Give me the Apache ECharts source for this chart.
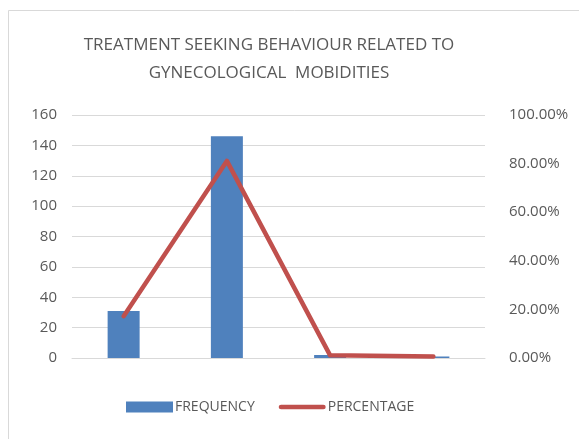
<!DOCTYPE html>
<html>
<head>
<meta charset="utf-8">
<script src="https://cdn.jsdelivr.net/npm/echarts@6/dist/echarts.min.js"></script>
<style>
  html, body { margin: 0; padding: 0; background: #fff; }
  #chart { width: 579px; height: 439px; }
</style>
</head>
<body>
<div id="chart"></div>
<script>
// data
let categories = ['1', '2', '3', '4'];
let frequency = [31, 146, 2, 1];
let percentage = [0.172, 0.811, 0.011, 0.006];
let leftTicks = { min: 0, max: 160, interval: 20 };
let rightTicks = { min: 0, max: 1, interval: 0.2 };

let colors = {
  tc: '#595959',
  bar: '#4F81BD',
  line: '#C0504D',
  grid: '#d9d9d9'
};

// thin rounded stroke for the line legend (the empty moves pad the box)
let lineIcon = 'path://M0,0M0,22M5,6L95,6A5,5,0,0,1,95,16L5,16A5,5,0,0,1,5,6Z';

let chart = echarts.init(document.getElementById('chart'));
chart.setOption({
  animation: false,
  backgroundColor: '#fff',
  graphic: [{
    type: 'rect',
    shape: { x: 8.5, y: 10.5, width: 600, height: 500 },
    style: { fill: 'none', stroke: colors.grid, lineWidth: 1 },
    silent: true
  }],
  title: {
    text: 'TREATMENT SEEKING BEHAVIOUR RELATED TO\nGYNECOLOGICAL  MOBIDITIES',
    left: 264,
    top: 26,
    textAlign: 'center',
    textStyle: {
      color: colors.tc,
      fontFamily: 'Open Sans',
      fontWeight: 'normal',
      fontSize: 17,
      lineHeight: 28
    }
  },
  legend: {
    data: [
      { name: 'FREQUENCY', icon: 'rect' },
      { name: 'PERCENTAGE', icon: lineIcon, itemStyle: { borderWidth: 0, color: colors.line } }
    ],
    bottom: 20,
    left: 121,
    itemWidth: 47,
    itemHeight: 11,
    itemGap: 24,
    textStyle: {
      color: colors.tc,
      fontFamily: 'Open Sans',
      fontSize: 14,
      padding: [0, 0, 0, -3]
    }
  },
  grid: {
    left: 72,
    right: 94,
    top: 115,
    bottom: 81
  },
  xAxis: {
    type: 'category',
    data: categories,
    axisLabel: { show: false },
    axisTick: { show: false },
    axisLine: { lineStyle: { color: colors.grid, width: 1 } }
  },
  yAxis: [{
    type: 'value',
    min: leftTicks.min,
    max: leftTicks.max,
    interval: leftTicks.interval,
    axisLine: { show: false },
    axisTick: { show: false },
    axisLabel: {
      color: colors.tc,
      fontFamily: 'Open Sans',
      fontSize: 15,
      margin: 15
    },
    splitLine: { lineStyle: { color: colors.grid, width: 1 } }
  }, {
    type: 'value',
    min: rightTicks.min,
    max: rightTicks.max,
    interval: rightTicks.interval,
    axisLine: { show: false },
    axisTick: { show: false },
    splitLine: { show: false },
    axisLabel: {
      color: colors.tc,
      fontFamily: 'Open Sans',
      fontSize: 15,
      margin: 24,
      formatter: (v) => (v * 100).toFixed(2) + '%'
    }
  }],
  series: [{
    name: 'FREQUENCY',
    type: 'bar',
    data: frequency,
    barWidth: 32,
    itemStyle: { color: colors.bar }
  }, {
    name: 'PERCENTAGE',
    type: 'line',
    yAxisIndex: 1,
    data: percentage,
    symbol: 'none',
    lineStyle: { color: colors.line, width: 4.5, cap: 'round', join: 'round' },
    itemStyle: { color: colors.line }
  }]
});
</script>
</body>
</html>
